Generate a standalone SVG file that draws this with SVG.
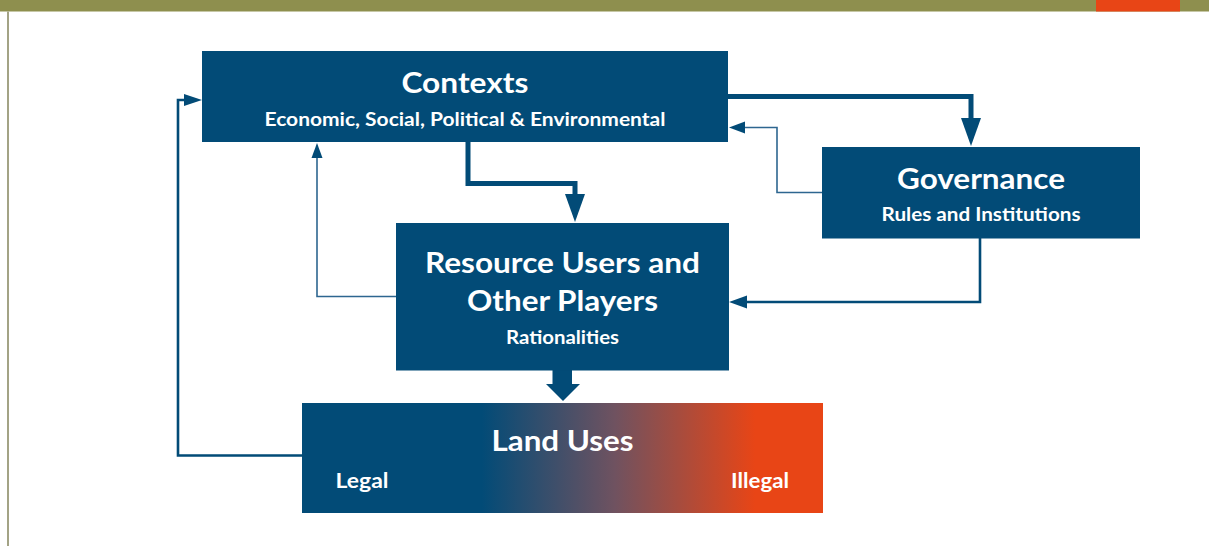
<svg xmlns="http://www.w3.org/2000/svg" width="1209" height="546" viewBox="0 0 1209 546">
  <style>
    .box { fill: #024b77; }
    .t { font-family: Lato, "Open Sans", sans-serif; font-weight: bold; fill: #ffffff; text-anchor: middle; }
    .title { font-size: 29px; }
    .sub { font-size: 18.5px; }
    .lbl { font-size: 20.5px; }
    .thick { fill: none; stroke: #024b77; stroke-width: 5; }
    .med { fill: none; stroke: #024b77; stroke-width: 2.6; }
    .thin { fill: none; stroke: #2d6690; stroke-width: 1.6; }
    .head { fill: #024b77; }
  </style>
  <defs>
    <linearGradient id="landGrad" x1="0" y1="0" x2="1" y2="0">
      <stop offset="0.345" stop-color="#024b77"/>
      <stop offset="0.6" stop-color="#6f5260"/>
      <stop offset="0.87" stop-color="#e84516"/>
    </linearGradient>
  </defs>
  <rect width="1209" height="546" fill="#ffffff"/>
  <g id="frame">
    <rect x="0" y="0" width="1209" height="11.5" fill="#8e8f4e"/>
    <rect x="1096" y="0" width="84" height="11.5" fill="#e84516"/>
    <rect x="7" y="11.5" width="2" height="535" fill="#a3a385"/>
  </g>
  <g id="connectors">
    <!-- Contexts -> Governance -->
    <polyline class="thick" points="728,96.5 971,96.5 971,119"/>
    <polygon class="head" points="961,118 981,118 971,146"/>
    <!-- Contexts -> Resource -->
    <polyline class="thick" points="468,142 468,183.5 575,183.5 575,195"/>
    <polygon class="head" points="565,194 585,194 575,222"/>
    <!-- Resource -> Land Uses -->
    <rect x="552.5" y="370" width="19.5" height="15" class="head"/>
    <polygon class="head" points="546,384 580,384 563,401"/>
    <!-- Governance -> Contexts -->
    <polyline class="thin" points="822,192.5 777,192.5 777,127.5 744,127.5"/>
    <polygon class="head" points="729,127.5 745,121.5 745,133.5"/>
    <!-- Governance -> Resource -->
    <polyline class="med" points="980,238 980,302 746,302"/>
    <polygon class="head" points="729,302 747,295.5 747,308.5"/>
    <!-- Resource -> Contexts -->
    <polyline class="thin" points="396,296.5 317,296.5 317,157"/>
    <polygon class="head" points="317,143 311.5,158 322.5,158"/>
    <!-- Land Uses -> Contexts -->
    <polyline class="med" points="302,455.5 178,455.5 178,100 186,100"/>
    <polygon class="head" points="202,100 184,94 184,106"/>
  </g>
  <g id="contexts">
    <rect class="box" x="202" y="51" width="526" height="91"/>
    <text class="t title" x="465" y="93" textLength="127" lengthAdjust="spacingAndGlyphs">Contexts</text>
    <text class="t sub" x="465" y="126" textLength="401" lengthAdjust="spacingAndGlyphs">Economic, Social, Political &amp; Environmental</text>
  </g>
  <g id="governance">
    <rect class="box" x="822" y="147" width="318" height="91.5"/>
    <text class="t title" x="981" y="188.5" textLength="168" lengthAdjust="spacingAndGlyphs">Governance</text>
    <text class="t sub" x="981" y="221" textLength="199" lengthAdjust="spacingAndGlyphs">Rules and Institutions</text>
  </g>
  <g id="resource-users">
    <rect class="box" x="396" y="223" width="333" height="147.5"/>
    <text class="t title" x="562.5" y="272.5" textLength="275" lengthAdjust="spacingAndGlyphs">Resource Users and</text>
    <text class="t title" x="562.5" y="311" textLength="191" lengthAdjust="spacingAndGlyphs">Other Players</text>
    <text class="t sub" x="562.5" y="343.5" textLength="113" lengthAdjust="spacingAndGlyphs">Rationalities</text>
  </g>
  <g id="land-uses">
    <rect x="302" y="403" width="521" height="110" fill="url(#landGrad)"/>
    <text class="t title" x="562.5" y="450.5" textLength="142" lengthAdjust="spacingAndGlyphs">Land Uses</text>
    <text class="t lbl" x="362" y="488" textLength="53" lengthAdjust="spacingAndGlyphs">Legal</text>
    <text class="t lbl" x="760" y="488" textLength="58" lengthAdjust="spacingAndGlyphs">Illegal</text>
  </g>
</svg>
